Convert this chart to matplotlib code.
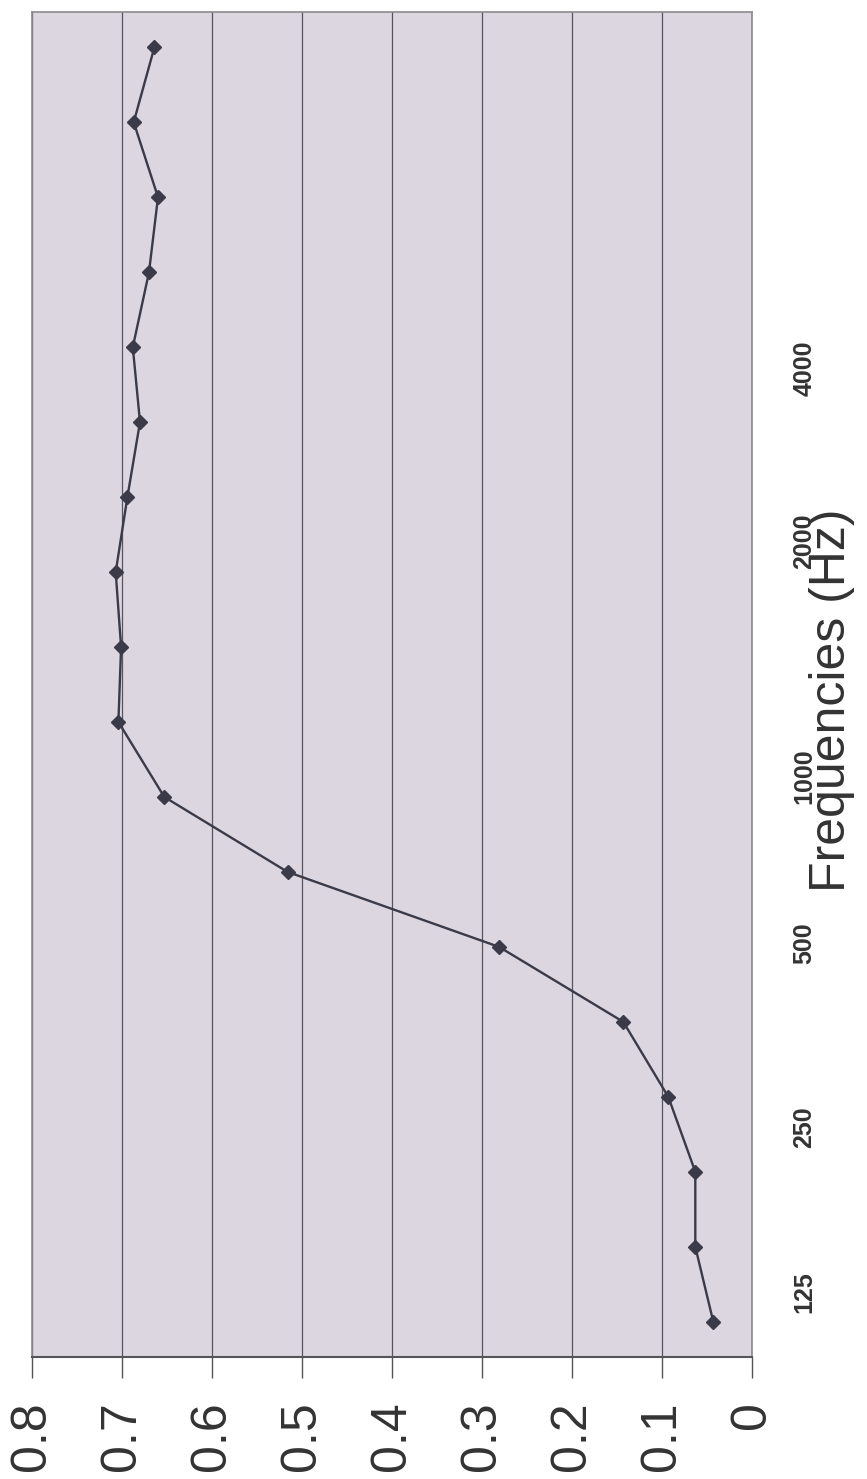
import matplotlib
matplotlib.use("Agg")
import matplotlib.pyplot as plt
import numpy as np

# Data (third-octave bands, absorption coefficient)
bands = [100, 125, 160, 200, 250, 315, 400, 500, 630, 800,
         1000, 1250, 1600, 2000, 2500, 3150, 4000, 5000]
alpha = [0.043, 0.063, 0.063, 0.093, 0.143, 0.281, 0.516, 0.653, 0.704,
         0.701, 0.707, 0.694, 0.680, 0.688, 0.670, 0.660, 0.687, 0.664]
freq_labels = ["125", "250", "500", "1000", "2000", "4000"]
freq_label_pos = [0.39, 2.59, 5.05, 7.28, 10.41, 12.72]
value_ticks = [0.8, 0.7, 0.6, 0.5, 0.4, 0.3, 0.2, 0.1, 0.0]
value_labels = ["0.8", "0.7", "0.6", "0.5", "0.4", "0.3", "0.2", "0.1", "0"]

plt.rcParams['font.family'] = ['Liberation Sans', 'DejaVu Sans']

fig = plt.figure(figsize=(8.67, 14.79), dpi=100)
ax = fig.add_axes([32/867, 1 - 1357/1479, (752-32)/867, (1357-12)/1479])
ax.set_facecolor("#dbd6e0")

idx = np.arange(len(bands))
ax.plot(alpha, idx, color="#3b3a48", lw=1.7, marker="D", ms=7.5,
        mfc="#3b3a48", mec="#3b3a48", zorder=3)

ax.set_xlim(0.8, 0.0)
ax.set_ylim(-0.47, 17.47)

ax.set_xticks(value_ticks)
ax.set_xticklabels(value_labels, rotation=90, fontsize=36, color="#333333",
                   va="top", ha="center")
ax.tick_params(axis="x", direction="out", length=15, width=1, color="#555555", pad=17)
ax.grid(axis="x", color="#555560", lw=0.9)
ax.set_axisbelow(True)

ax.set_yticks([])
for lab, pos in zip(freq_labels, freq_label_pos):
    ax.text(1.073, pos, lab, transform=ax.get_yaxis_transform(),
            rotation=90, ha="center", va="center", fontsize=18,
            fontweight="bold", color="#333333")

fig.text(832/867, 1 - 700/1479, "Frequencies (Hz)", rotation=90,
         ha="center", va="center", fontsize=36, color="#333333")

for s in ["left", "top", "right"]:
    ax.spines[s].set_color("#8a8a90")
    ax.spines[s].set_linewidth(1.2)
ax.spines["bottom"].set_color("#555555")
ax.spines["bottom"].set_linewidth(1.5)

fig.savefig("out.png", dpi=100, facecolor="white")
